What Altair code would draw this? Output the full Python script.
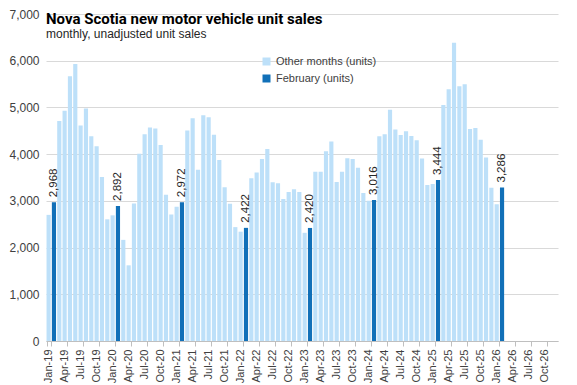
import altair as alt
import pandas as pd

MONTHS = ["Jan", "Feb", "Mar", "Apr", "May", "Jun", "Jul", "Aug", "Sep", "Oct", "Nov", "Dec"]
YEARS = [19, 20, 21, 22, 23, 24, 25, 26]

v2019 = [2700, 2968, 4710, 4930, 5665, 5930, 4615, 4975, 4385, 4170, 3510, 2605]
v2020 = [2690, 2892, 2165, 1620, 2945, 4010, 4425, 4570, 4550, 4195, 3130, 2708]
v2021 = [2875, 2972, 4507, 4771, 3667, 4833, 4792, 4417, 3875, 3292, 2938, 2438]
v2022 = [2340, 2422, 3482, 3607, 3896, 4111, 3400, 3378, 3042, 3190, 3250, 3190]
v2023 = [2316, 2420, 3625, 3625, 4063, 4271, 3403, 3625, 3910, 3896, 3708, 3167]
v2024 = [3000, 3016, 4382, 4425, 4950, 4530, 4408, 4490, 4387, 4300, 3905, 3340]
v2025 = [3360, 3444, 5052, 5390, 6385, 5455, 5497, 4538, 4559, 4308, 3930, 3280]
v2026 = [2930, 3286]

sales = v2019 + v2020 + v2021 + v2022 + v2023 + v2024 + v2025 + v2026
categories = [f"{m}-{y}" for y in YEARS for m in MONTHS]
tick_labels = categories[::3]
y_ticks = [0, 1000, 2000, 3000, 4000, 5000, 6000, 7000]

SERIES = ["Other months (units)", "February (units)"]
COLORS = ["#bde0f9", "#1170b8"]

rows = []
for i, v in enumerate(sales):
    cat = categories[i]
    rows.append({
        "month": cat,
        "units": v,
        "series": SERIES[1] if cat.startswith("Feb") else SERIES[0],
        "label": f"{v:,}",
    })
df = pd.DataFrame(rows)

x_enc = alt.X(
    "month:N",
    sort=categories,
    scale=alt.Scale(domain=categories, paddingInner=0.22, paddingOuter=0.1),
    axis=alt.Axis(
        values=tick_labels,
        labelAngle=270,
        title=None,
        labelFont="Liberation Sans",
        labelFontSize=11,
        labelColor="#404040",
        domainColor="#bfbfbf",
        tickColor="#bfbfbf",
        tickSize=5,
        tickBand="extent",
        labelPadding=3,
        grid=False,
    ),
)
y_enc = alt.Y(
    "units:Q",
    scale=alt.Scale(domain=[0, 7000], nice=False),
    axis=alt.Axis(
        values=y_ticks,
        format=",.0f",
        title=None,
        labelFont="Liberation Sans",
        labelFontSize=12,
        labelColor="#404040",
        labelPadding=7,
        domain=False,
        ticks=False,
        gridColor="#d9d9d9",
    ),
)

base = alt.Chart(df)

bars = base.mark_bar().encode(
    x=x_enc,
    y=y_enc,
    color=alt.Color(
        "series:N",
        scale=alt.Scale(domain=SERIES, range=COLORS),
        legend=alt.Legend(
            title=None,
            orient="none",
            legendX=215,
            legendY=42,
            symbolType="square",
            symbolSize=64,
            symbolStrokeWidth=0,
            labelFont="Liberation Sans",
            labelFontSize=11,
            labelColor="#404040",
            rowPadding=5,
        ),
    ),
)

labels = base.transform_filter(
    alt.datum.series == SERIES[1]
).mark_text(
    angle=270,
    align="left",
    baseline="middle",
    dx=5,
    font="Liberation Sans",
    fontSize=11.5,
    color="#262626",
).encode(x=x_enc, y=y_enc, text="label:N")

chart = alt.layer(bars, labels).properties(
    width=512,
    height=327,
    title=alt.TitleParams(
        text="Nova Scotia new motor vehicle unit sales",
        subtitle="monthly, unadjusted unit sales",
        anchor="start",
        frame="group",
        font="Roboto",
        fontSize=15,
        fontWeight="bold",
        color="#000000",
        subtitleFont="Liberation Sans",
        subtitleFontSize=12,
        subtitleColor="#262626",
        subtitlePadding=2,
        dy=36,
    ),
    padding={"left": 0, "top": 0, "right": 5, "bottom": 0},
).configure_view(strokeWidth=0)

chart.save("out.html", embed_options={"renderer": "svg", "actions": False})
